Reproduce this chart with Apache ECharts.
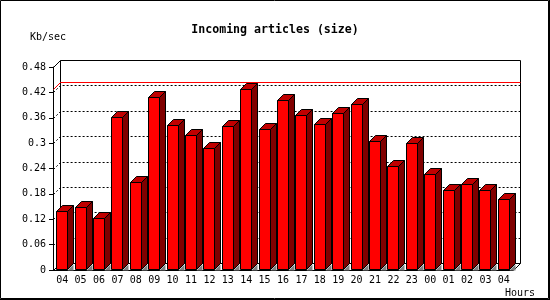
<!DOCTYPE html>
<html>
<head>
<meta charset="utf-8">
<script src="https://cdn.jsdelivr.net/npm/echarts@6/dist/echarts.min.js"></script>
<style>html,body{margin:0;padding:0;background:#fff}#c{width:550px;height:300px}</style>
</head>
<body>
<div id="c"></div>
<script>
const hours = ['04','05','06','07','08','09','10','11','12','13','14','15','16','17','18','19','20','21','22','23','00','01','02','03','04'];
const sizeKbSec = [0.139,0.150,0.124,0.361,0.207,0.408,0.344,0.320,0.288,0.340,0.427,0.333,0.401,0.366,0.346,0.372,0.393,0.304,0.245,0.301,0.228,0.190,0.203,0.188,0.169];
const yTicks = [0,0.06,0.12,0.18,0.24,0.3,0.36,0.42,0.48];
const titleText = 'Incoming articles (size)';
const yName = 'Kb/sec';
const xName = 'Hours';

const D = 7;   // back-wall offset
const BD = 6;  // bar depth
const FONT = '"DejaVu Sans Mono", monospace';

const chart = echarts.init(document.getElementById('c'), null, {renderer: 'canvas'});
const maxVal = Math.max(...sizeKbSec);
const gridVals = yTicks.filter(v => v > 0 && v < yTicks[yTicks.length - 1]);

chart.setOption({
  animation: false,
  backgroundColor: '#fff',
  title: {
    text: titleText, left: 'center', top: 19,
    textStyle: {fontFamily: FONT, fontWeight: 'bold', fontSize: 11.6, color: '#000'}
  },
  grid: {left: 53, top: 67, width: 460, height: 203},
  xAxis: {
    type: 'category', data: hours, boundaryGap: true,
    axisLine: {lineStyle: {color: '#000', width: 1}},
    axisTick: {length: 4, lineStyle: {color: '#000'}},
    axisLabel: {interval: 0, margin: 5, fontFamily: FONT, fontSize: 10, color: '#000'},
    splitLine: {show: false}
  },
  yAxis: {
    type: 'value', min: 0, max: 0.48, interval: 0.06,
    axisLine: {show: true, lineStyle: {color: '#000', width: 1}},
    axisTick: {show: true, length: 4, lineStyle: {color: '#000'}},
    axisLabel: {margin: 7, fontFamily: FONT, fontSize: 10, color: '#000',
      formatter: v => String(+v.toFixed(2))},
    splitLine: {show: false}
  },
  graphic: [
    {type: 'rect', shape: {x: 0.5, y: 0.5, width: 548, height: 298}, style: {fill: 'none', stroke: '#000', lineWidth: 1}, z: 100},
    {type: 'rect', shape: {x: 549, y: 0, width: 1, height: 300}, style: {fill: '#000'}, z: 100},
    {type: 'rect', shape: {x: 0, y: 299, width: 550, height: 1}, style: {fill: '#000'}, z: 100},
    {type: 'text', left: 30, top: 32, style: {text: yName, font: '10px ' + FONT, fill: '#000'}},
    {type: 'text', left: 505, top: 288, style: {text: xName, font: '10px ' + FONT, fill: '#000'}}
  ],
  series: [
    {
      // back wall frame and connecting diagonals
      type: 'custom', z: 1, silent: true,
      data: [[0, 0]],
      renderItem(params, api) {
        const cs = params.coordSys;
        const x = Math.round(cs.x) + 0.5, y = Math.round(cs.y) + 0.5;
        const w = Math.round(cs.width), h = Math.round(cs.height);
        const st = {stroke: '#000', lineWidth: 1, fill: 'none'};
        return {type: 'group', children: [
          {type: 'rect', shape: {x: x + D, y: y - D, width: w, height: h}, style: {fill: '#fff', stroke: '#000', lineWidth: 1}},
          {type: 'line', shape: {x1: x, y1: y, x2: x + D, y2: y - D}, style: st},
          {type: 'line', shape: {x1: x, y1: y + h, x2: x + D, y2: y + h - D}, style: st},
          {type: 'line', shape: {x1: x + w, y1: y + h, x2: x + w + D, y2: y + h - D}, style: st}
        ]};
      }
    },
    {
      // dotted grid lines on the back wall
      type: 'custom', z: 2, silent: true,
      data: gridVals.map(v => [0, v]),
      renderItem(params, api) {
        const cs = params.coordSys;
        const x = Math.round(cs.x) + 0.5;
        const w = Math.round(cs.width);
        const py = Math.round(api.coord([0, api.value(1)])[1]) + 0.5;
        const st = {stroke: '#000', lineWidth: 1, lineDash: [2, 2], fill: 'none'};
        return {type: 'polyline', shape: {points: [[x, py], [x + D, py - D], [x + w + D, py - D]]}, style: st};
      }
    },
    {
      // maximum value line
      type: 'custom', z: 3, silent: true,
      data: [[0, maxVal]],
      renderItem(params, api) {
        const cs = params.coordSys;
        const x = Math.round(cs.x) + 0.5;
        const w = Math.round(cs.width);
        const py = Math.round(api.coord([0, api.value(1)])[1]) + 0.5;
        return {type: 'polyline', shape: {points: [[x, py], [x + D, py - D], [x + w + D, py - D]]},
          style: {stroke: '#ff0000', lineWidth: 1, fill: 'none'}};
      }
    },
    {
      // 3D bars
      type: 'custom', z: 5,
      data: sizeKbSec.map((v, i) => [i, v]),
      renderItem(params, api) {
        const i = api.value(0), v = api.value(1);
        const t = api.coord([i, v]);
        const b = api.coord([i, 0]);
        const xl = Math.round(t[0] - 6) + 0.5;
        const xr = xl + 11;
        const yt = Math.round(t[1]) + 0.5;
        const yb = Math.round(b[1]) - 0.5;
        const edge = {stroke: '#000', lineWidth: 1};
        return {type: 'group', children: [
          {type: 'polygon', shape: {points: [[xr, yb + 1], [xr + BD, yb + 1 - BD], [xr + BD, yb + 1]]},
            style: {fill: '#808080', stroke: null}},
          {type: 'polygon', shape: {points: [[xl, yt], [xr, yt], [xr, yb], [xl, yb]]},
            style: Object.assign({fill: '#ff0000'}, edge)},
          {type: 'polygon', shape: {points: [[xl, yt], [xl + BD, yt - BD], [xr + BD, yt - BD], [xr, yt]]},
            style: Object.assign({fill: '#c00000'}, edge)},
          {type: 'polygon', shape: {points: [[xr, yt], [xr + BD, yt - BD], [xr + BD, yb - BD], [xr, yb]]},
            style: Object.assign({fill: '#800000'}, edge)}
        ]};
      }
    }
  ]
});
</script>
</body>
</html>
